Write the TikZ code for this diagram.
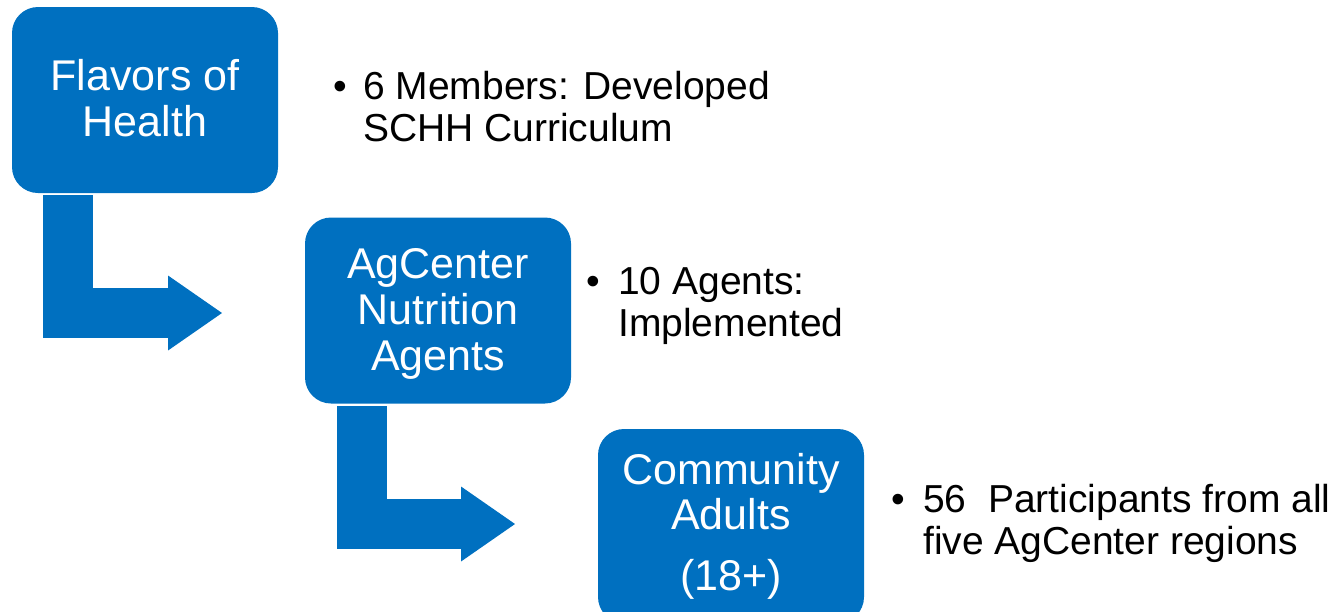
\documentclass[tikz,border=0pt]{standalone}
\usepackage{fontspec}
\setmainfont{Liberation Sans}
\usetikzlibrary{arrows.meta}
\definecolor{stepblue}{HTML}{0070C0}
\begin{document}
\begin{tikzpicture}[x=1pt,y=-1pt,
  stage/.style={fill=stepblue, rounded corners=26pt, minimum width=266pt,
    minimum height=186pt, inner sep=0pt},
  stagetext/.style={text=white, align=center, inner sep=0pt,
    font=\fontsize{43}{46}\selectfont},
  note/.style={anchor=base west, inner sep=0pt, font=\fontsize{39}{42}\selectfont},
  bendarrow/.style={draw=stepblue, line width=50pt, line join=miter,
    -{Triangle[width=75pt,length=54pt,line width=0pt]}},
]
\useasboundingbox (0,0) rectangle (1341,611);

% the three stages
\node[stage] (box1) at (145,100) {};
\node[stage] (box2) at (438,310.5) {};
\node[stage, minimum height=194pt] (box3) at (731,526) {};
\node[stagetext, yshift=2pt] (box1t) at (box1.center) {Flavors of\\Health};
\node[stagetext, yshift=-3pt] (box2t) at (box2.center) {AgCenter\\Nutrition\\Agents};
\node[stagetext, font=\fontsize{43}{45}\selectfont] (box3t) at (box3.center)
  {Community\\Adults\\[16pt](18+)};

% bent arrows leading from one stage down to the next
\coordinate (f1) at (68,195);
\coordinate (t1) at (222,313);
\coordinate (f2) at (362,406);
\coordinate (t2) at (515,524);
\draw[bendarrow] (f1) |- (t1);
\draw[bendarrow] (f2) |- (t2);

% bulleted notes
\node[note] (b1) at (333,99) {•};
\node[note] (n1) at (363,99) {\vtop{\hbox{6 Members: Developed}\hbox{SCHH Curriculum}}};
\node[note] (b2) at (586,294) {•};
\node[note] (n2) at (618,294) {\vtop{\hbox{10 Agents:}\hbox{Implemented}}};
\node[note] (b3) at (891,512) {•};
\node[note] (n3) at (923,512) {\vtop{\hbox{56~ Participants from all}\hbox{five AgCenter regions}}};
\end{tikzpicture}
\end{document}
